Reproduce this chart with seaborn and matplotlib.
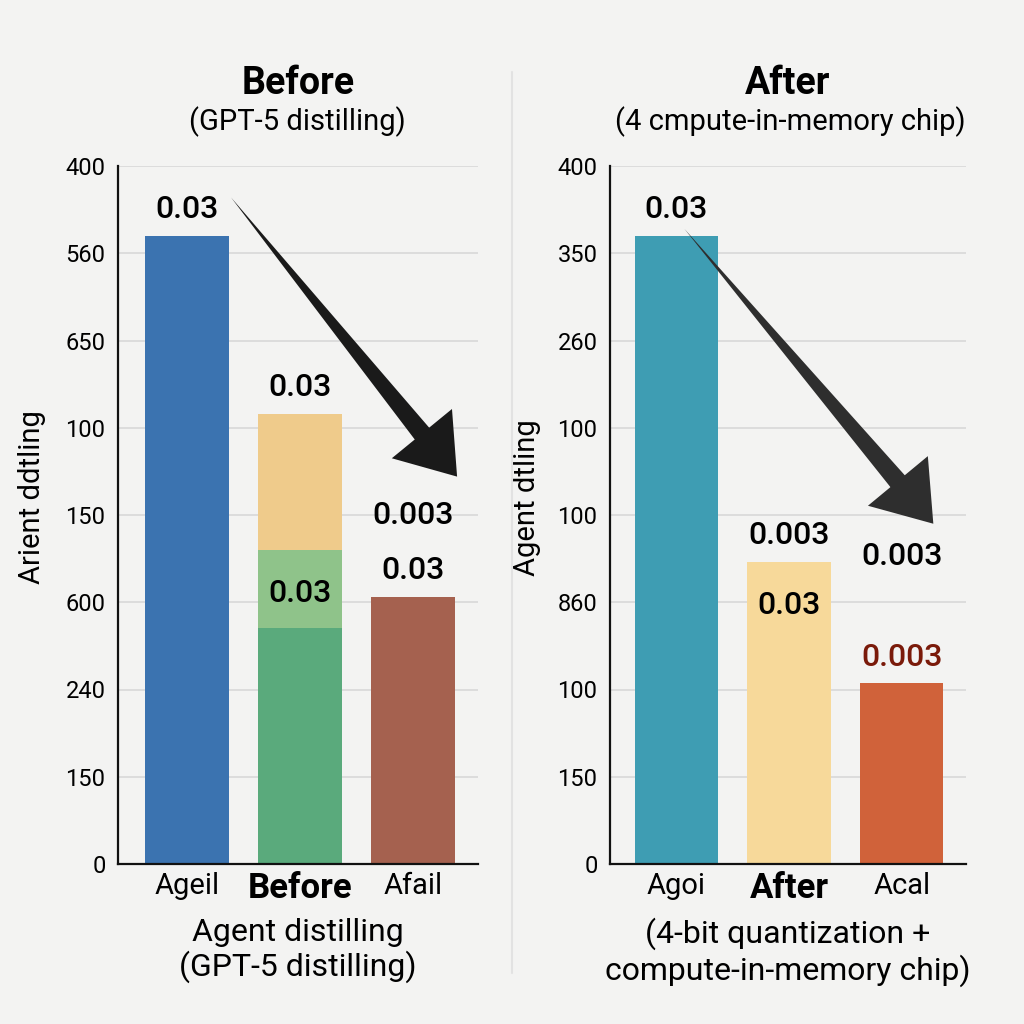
import matplotlib
matplotlib.use("Agg")
import matplotlib.pyplot as plt
import seaborn as sns
import pandas as pd
import numpy as np

# ---- data ----
left_categories = ["Ageil", "Before", "Afail"]
left_values = [360, 258, 153]
left_stack_mid = [0, 180, 0]     # light green segment top
left_stack_low = [0, 135, 0]     # dark green segment top
left_colors = ["#3b73b0", "#efcb8b", "#a5614f"]

right_categories = ["Agoi", "After", "Acal"]
right_values = [360, 173, 104]
right_colors = ["#3e9db3", "#f7d99a", "#d0623a"]

tick_positions = [0, 50, 100, 150, 200, 250, 300, 350, 400]
left_tick_labels = ["0", "150", "240", "600", "150", "100", "650", "560", "400"]
right_tick_labels = ["0", "150", "100", "860", "100", "100", "260", "350", "400"]

left_value_labels = ["0.03", "0.03", "0.03"]
right_value_labels = ["0.03", "0.003", "0.003"]

sns.set_theme(style="white")
plt.rcParams["font.family"] = ["Roboto", "DejaVu Sans"]
for k in ["text.color", "axes.labelcolor", "xtick.color", "ytick.color"]:
    plt.rcParams[k] = "#000000"

BG = "#f3f3f2"
fig = plt.figure(figsize=(10.24, 10.24), dpi=100, facecolor=BG)

axL = fig.add_axes([118/1024, 160/1024, 360/1024, 698/1024])
axR = fig.add_axes([610/1024, 160/1024, 356/1024, 698/1024])

VAL_FS = 23
VAL_W = "medium"

def base_axes(ax, labels, ylabel, xlim, ylab_x):
    ax.set_facecolor(BG)
    ax.set_ylim(0, 400)
    ax.set_xlim(*xlim)
    ax.set_yticks(tick_positions)
    ax.set_yticklabels(labels, fontsize=17)
    ax.yaxis.grid(True, color="#d8d8d8", linewidth=1.2)
    ax.set_axisbelow(True)
    for s in ["top", "right"]:
        ax.spines[s].set_visible(False)
    for s in ["left", "bottom"]:
        ax.spines[s].set_color("#111111")
        ax.spines[s].set_linewidth(1.6)
    ax.tick_params(axis="y", length=0, pad=9)
    ax.tick_params(axis="x", length=0, pad=6)
    ax.set_ylabel(ylabel, fontsize=21)
    ax.yaxis.set_label_coords(ylab_x, 0.525)
    for p in ax.patches:
        p.set_linewidth(0)

def style_xticks(ax):
    for i, t in enumerate(ax.get_xticklabels()):
        if i == 1:
            t.set_fontsize(25); t.set_fontweight("bold")
        else:
            t.set_fontsize(21)

def trend_arrow(ax, start, base, shaft_end, tip, color):
    # tapered shaft (narrow at start, wide near the head)
    ax.annotate("", xy=start, xytext=shaft_end,
                arrowprops=dict(arrowstyle="wedge,tail_width=0.68,shrink_factor=0.5",
                                color=color, shrinkA=0, shrinkB=0,
                                mutation_scale=20, linewidth=0))
    # head
    ax.annotate("", xy=tip, xytext=base,
                arrowprops=dict(arrowstyle="simple,head_width=2.8,head_length=2.0,tail_width=0.3",
                                color=color, shrinkA=0, shrinkB=0,
                                mutation_scale=20, linewidth=0))

# ---- left panel ----
dfL = pd.DataFrame({"cat": left_categories, "val": left_values})
sns.barplot(data=dfL, x="cat", y="val", hue="cat", palette=left_colors,
            width=0.74, legend=False, ax=axL, saturation=1)
dfLm = pd.DataFrame({"cat": left_categories, "val": left_stack_mid})
sns.barplot(data=dfLm, x="cat", y="val", color="#8fc38a", width=0.74,
            ax=axL, saturation=1)
dfLl = pd.DataFrame({"cat": left_categories, "val": left_stack_low})
sns.barplot(data=dfLl, x="cat", y="val", color="#5aaa7c", width=0.74,
            ax=axL, saturation=1)
base_axes(axL, left_tick_labels, "Arient ddtling", (-0.61, 2.575), -0.20)
axL.set_xlabel("Agent distilling\n(GPT-5 distilling)", fontsize=23,
               linespacing=1.15, labelpad=9)
style_xticks(axL)

axL.text(0, left_values[0] + 7, left_value_labels[0], ha="center", va="bottom",
         fontsize=VAL_FS, fontweight=VAL_W)
axL.text(1, left_values[1] + 7, left_value_labels[1], ha="center", va="bottom",
         fontsize=VAL_FS, fontweight=VAL_W)
axL.text(1, 155, "0.03", ha="center", va="center", fontsize=VAL_FS, fontweight=VAL_W)
axL.text(2, left_values[2] + 7, left_value_labels[2], ha="center", va="bottom",
         fontsize=VAL_FS, fontweight=VAL_W)
axL.text(2, 200, "0.003", ha="center", va="center", fontsize=VAL_FS, fontweight=VAL_W)
trend_arrow(axL, start=(0.39, 382), base=(2.055, 248.5), shaft_end=(2.10, 245),
            tip=(2.39, 222), color="#1a1a1a")
axL.set_title("Before", fontsize=27, fontweight="bold", pad=52)
fig.text(297/1024, 1 - 122/1024, "(GPT-5 distilling)", ha="center", va="center",
         fontsize=21)

# ---- right panel ----
dfR = pd.DataFrame({"cat": right_categories, "val": right_values})
sns.barplot(data=dfR, x="cat", y="val", hue="cat", palette=right_colors,
            width=0.74, legend=False, ax=axR, saturation=1)
base_axes(axR, right_tick_labels, "Agent dtling", (-0.59, 2.57), -0.195)
axR.set_xlabel("(4-bit quantization +\ncompute-in-memory chip)", fontsize=23,
               linespacing=1.15, labelpad=9)
style_xticks(axR)

axR.text(0, right_values[0] + 7, right_value_labels[0], ha="center", va="bottom",
         fontsize=VAL_FS, fontweight=VAL_W)
axR.text(1, right_values[1] + 7, right_value_labels[1], ha="center", va="bottom",
         fontsize=VAL_FS, fontweight=VAL_W)
axR.text(1, 148, "0.03", ha="center", va="center", fontsize=VAL_FS, fontweight=VAL_W)
axR.text(2, 176, "0.003", ha="center", va="center", fontsize=VAL_FS, fontweight=VAL_W)
axR.text(2, right_values[2] + 6, right_value_labels[2], ha="center", va="bottom",
         fontsize=VAL_FS, fontweight=VAL_W, color="#7a1a0a")
trend_arrow(axR, start=(0.07, 364), base=(1.94, 221.5), shaft_end=(1.99, 217.3),
            tip=(2.28, 195), color="#2e2e2e")
axR.set_title("After", fontsize=27, fontweight="bold", pad=52)
fig.text(790/1024, 1 - 122/1024, "(4 cmpute-in-memory chip)", ha="center",
         va="center", fontsize=21)

# divider
fig.add_artist(plt.Line2D([512/1024, 512/1024], [0.05, 0.93], color="#e2e2e2",
                          linewidth=1.5, transform=fig.transFigure))

fig.savefig("out.png", dpi=100, facecolor=BG)
